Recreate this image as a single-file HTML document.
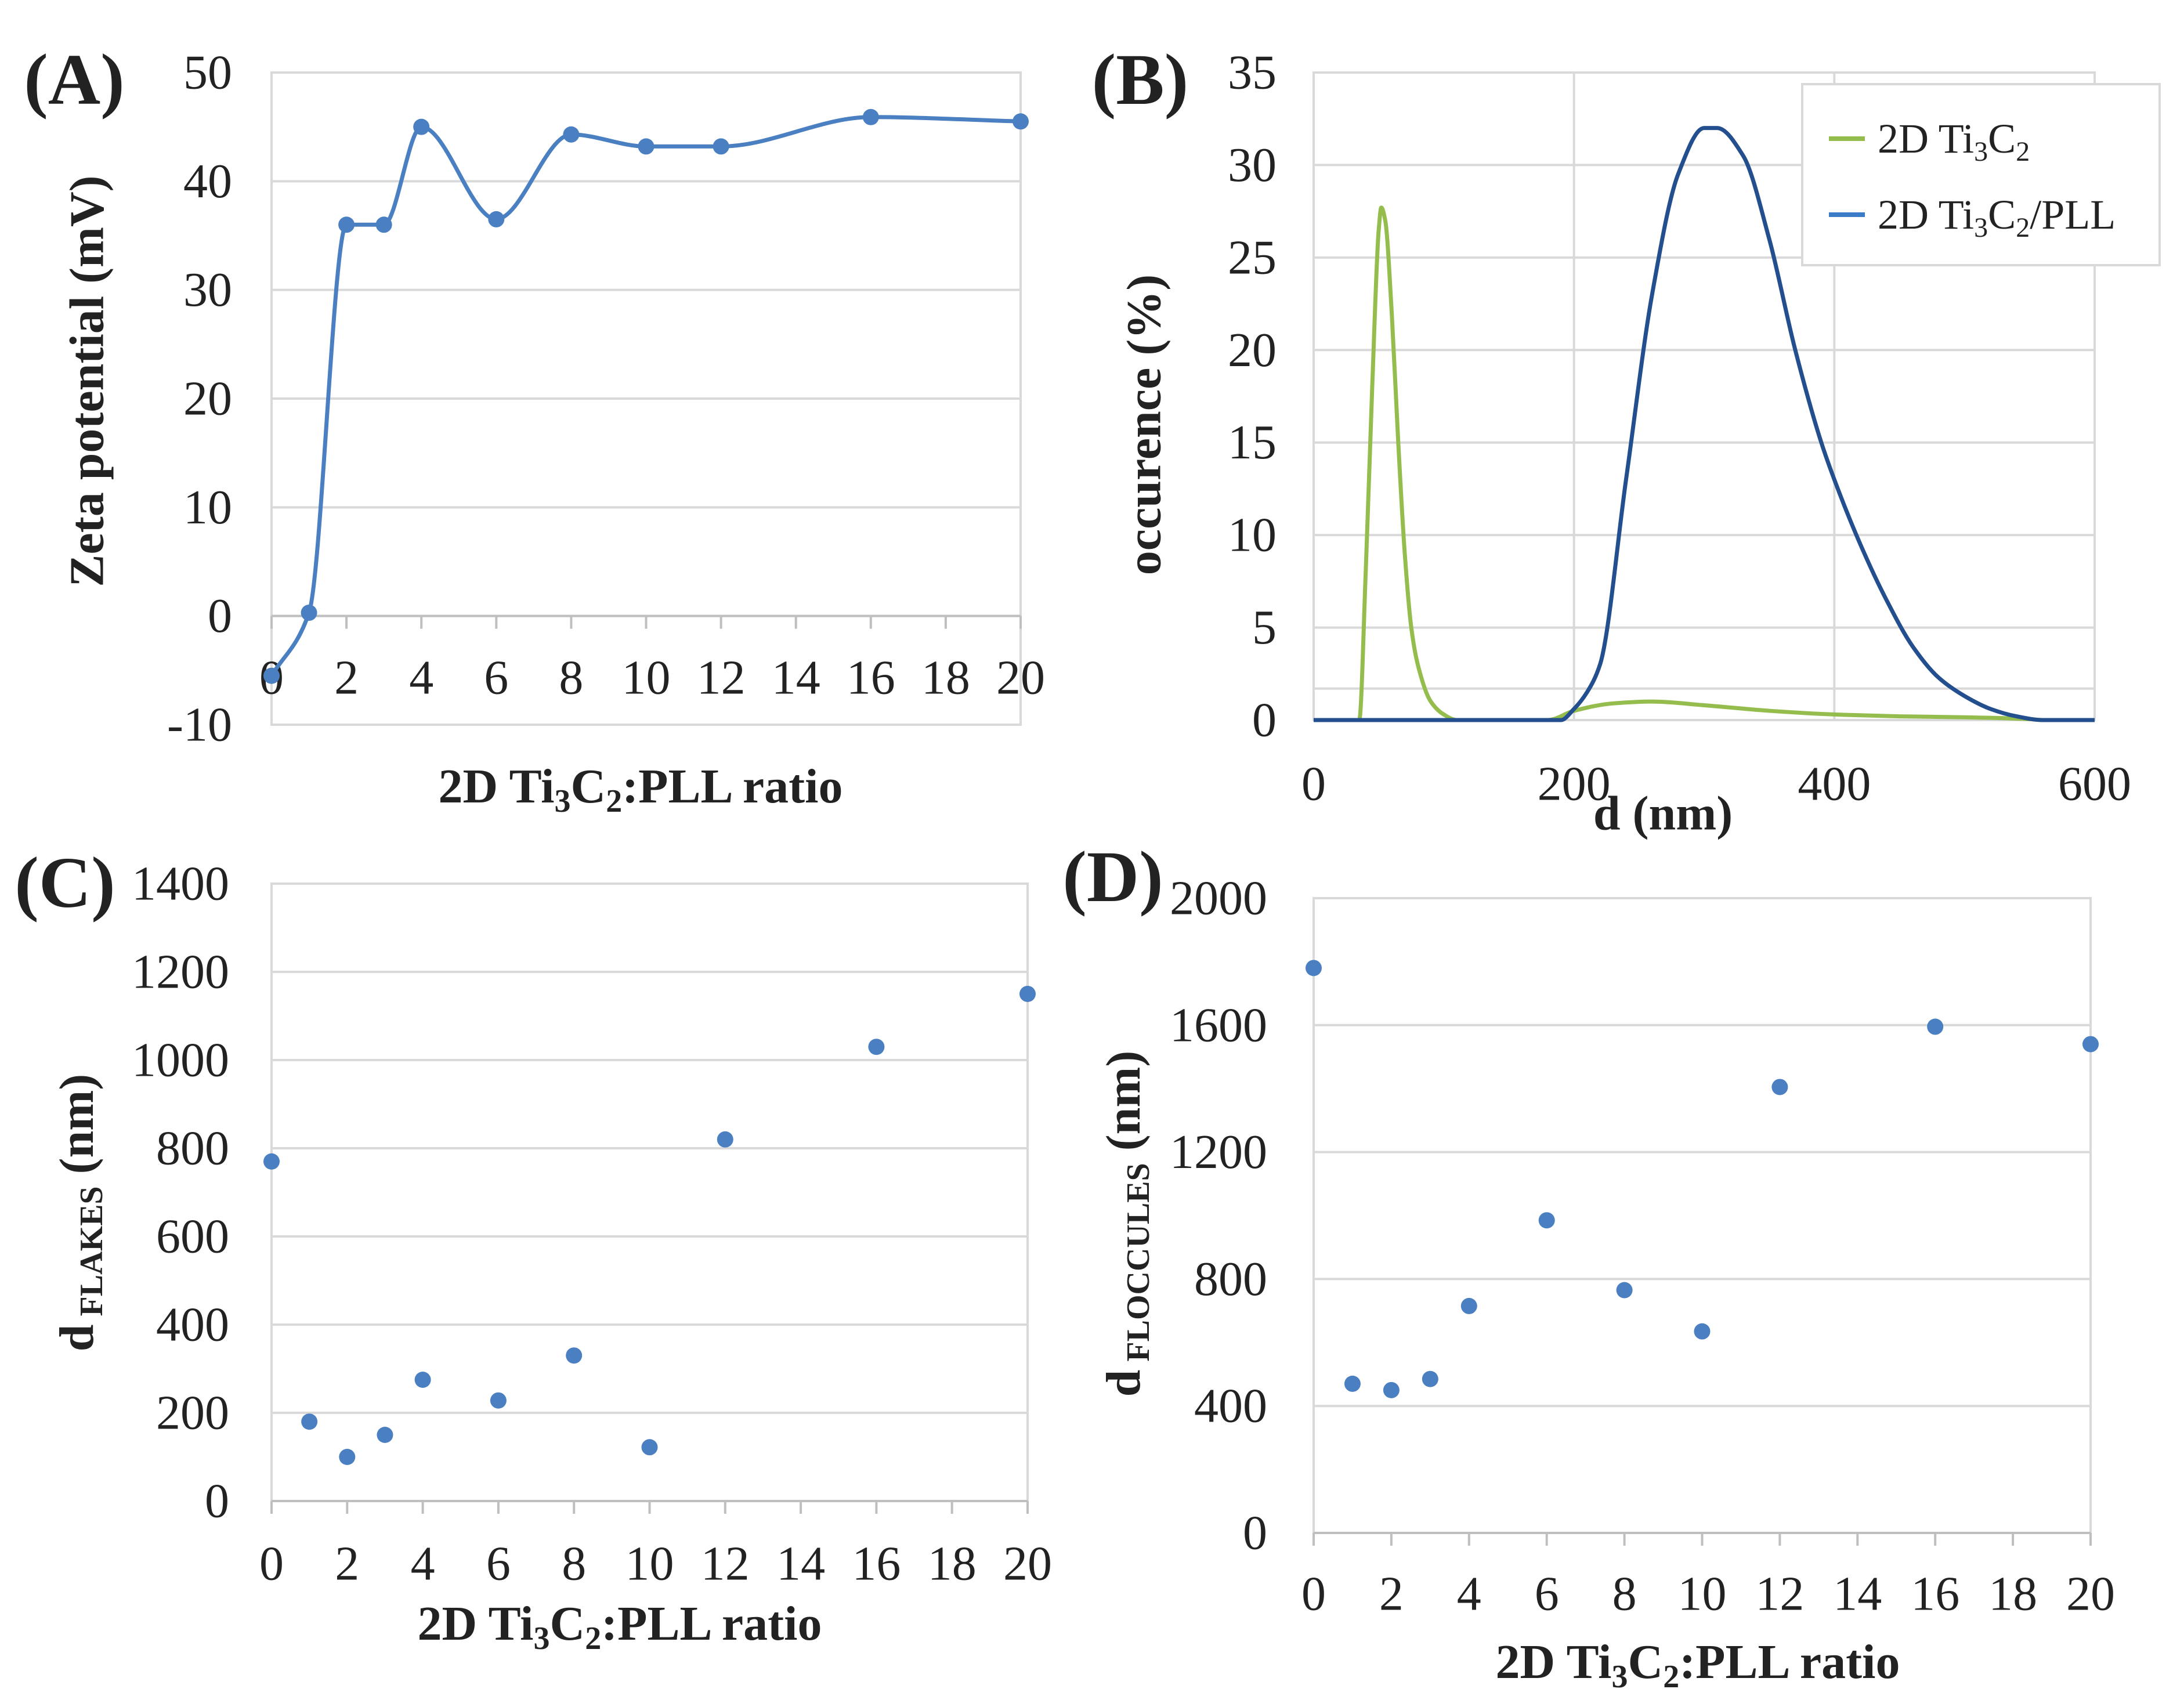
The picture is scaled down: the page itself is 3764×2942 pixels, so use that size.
<!DOCTYPE html>
<html><head><meta charset="utf-8"><style>
html,body{margin:0;padding:0;background:#fff;}
svg{display:block;font-family:"Liberation Serif",serif;}
</style></head><body>
<svg id="fig" width="3764" height="2942" viewBox="0 0 3764 2942" xmlns="http://www.w3.org/2000/svg">
<rect width="3764" height="2942" fill="#fff"/>
<g id="root"></g>
</svg>
<script>
// Panel A data
const ratiosA = [0,1,2,3,4,6,8,10,12,16,20];
const zetaA = [-5.5,0.3,36,36,45,36.5,44.3,43.2,43.2,45.9,45.5];
const yTicksA = [-10,0,10,20,30,40,50];
const xTicks = [0,2,4,6,8,10,12,14,16,18,20];
// Panel B data
const dGreen = [0,35,40,45,50,52,55,60,65,70,75,80,90,100,110,180,200,230,260,300,350,400,450,500,550,560,600];
const occGreen = [0,0,8,18,26.5,27.7,27,22,15,9,5,3,1,0.3,0,0,0.5,0.9,1.0,0.8,0.5,0.3,0.2,0.15,0.05,0,0];
const dBlue = [0,190,200,210,220,240,260,280,300,310,330,350,370,390,400,420,440,460,480,500,520,540,560,600];
const occBlue = [0,0,0.6,1.5,3,13,23,29.5,32,32,30.5,26,20,15,13,9.5,6.5,4,2.3,1.3,0.6,0.2,0,0];
const xTicksB = [0,200,400,600];
const yTicksB = [0,5,10,15,20,25,30,35];
// Panel C data
const ratiosC = [0,1,2,3,4,6,8,10,12,16,20];
const flakesC = [770,180,100,150,275,228,330,122,820,1030,1150];
const yTicksC = [0,200,400,600,800,1000,1200,1400];
// Panel D data
const ratiosD = [0,1,2,3,4,6,8,10,12,16,20];
const floccD = [1780,470,450,485,715,985,765,635,1405,1595,1540];
const yTicksD = [0,400,800,1200,1600,2000];

const NS="http://www.w3.org/2000/svg";
const root=document.getElementById('root');
function mk(tag,attrs,parent){const e=document.createElementNS(NS,tag);for(const k in attrs)e.setAttribute(k,attrs[k]);(parent||root).appendChild(e);return e;}
function txt(s,x,y,size,opts,parent){opts=opts||{};const t=mk('text',{x:x,y:y,'font-size':size,'text-anchor':opts.anchor||'middle','dominant-baseline':'central','font-weight':opts.bold?'bold':'normal',fill:'#222'},parent);if(opts.rot)t.setAttribute('transform','rotate(-90 '+x+' '+y+')');t.textContent=s;return t;}
function lin(d0,d1,r0,r1){return v=>r0+(v-d0)/(d1-d0)*(r1-r0);}
// monotone cubic (Fritsch-Carlson) in pixel space (x increasing)
function monotone(pts){const n=pts.length;const dx=[],m=[],t=[];for(let i=0;i<n-1;i++){dx.push(pts[i+1][0]-pts[i][0]);m.push((pts[i+1][1]-pts[i][1])/dx[i]);}
t[0]=m[0];t[n-1]=m[n-2];for(let i=1;i<n-1;i++){if(m[i-1]*m[i]<=0)t[i]=0;else{const w1=2*dx[i]+dx[i-1],w2=dx[i]+2*dx[i-1];t[i]=(w1+w2)/(w1/m[i-1]+w2/m[i]);}}
let d='M'+pts[0][0]+','+pts[0][1];for(let i=0;i<n-1;i++){const h=dx[i]/3;d+=' C'+(pts[i][0]+h)+','+(pts[i][1]+t[i]*h)+' '+(pts[i+1][0]-h)+','+(pts[i+1][1]-t[i+1]*h)+' '+pts[i+1][0]+','+pts[i+1][1];}return d;}
function grid(g,x0,x1,y0,y1,ys,sy){mk('rect',{x:x0,y:y0,width:x1-x0,height:y1-y0,fill:'none',stroke:'#d9d9d9','stroke-width':4},g);ys.forEach(v=>{const l=mk('line',{x1:x0,x2:x1,y1:sy(v),y2:sy(v),stroke:'#d9d9d9','stroke-width':4},g);});}
function xaxis(g,x0,x1,yb,ticks,sx,lblY){mk('line',{x1:x0,x2:x1,y1:yb,y2:yb,stroke:'#bfbfbf','stroke-width':4},g);ticks.forEach(v=>{mk('line',{x1:sx(v),x2:sx(v),y1:yb,y2:yb+22,stroke:'#bfbfbf','stroke-width':4},g);const t=txt(String(v),sx(v),lblY,84,{},g);});}
function yaxis(g,ticks,sy,xr){ticks.forEach(v=>{const t=txt(String(v),xr,sy(v),84,{anchor:'end'},g);});}
function ratioTitle(g,x,y,name){const t=mk('text',{x:x,y:y+28,'font-size':84,'font-weight':'bold','text-anchor':'middle',fill:'#222'},g);t.innerHTML='2D Ti<tspan font-size="56" dy="16">3</tspan><tspan dy="-16">C</tspan><tspan font-size="56" dy="16">2</tspan><tspan dy="-16">:PLL ratio</tspan>';}

// ---- Panel A ----
{const g=mk('g',{});
const sx=lin(0,20,468,1759), sy=lin(-10,50,1249,125);
grid(g,468,1759,125,1249,yTicksA,sy);
xaxis(g,468,1759,sy(0),xTicks,sx,1168);
yaxis(g,yTicksA,sy,400);
const pts=ratiosA.map((r,i)=>[sx(r),sy(zetaA[i])]);
const p=mk('path',{d:monotone(pts),fill:'none',stroke:'#4a7fc1','stroke-width':7},g);
pts.forEach(q=>{const c=mk('circle',{cx:q[0],cy:q[1],r:14,fill:'#4a7fc1'},g);});
let t=txt('(A)',128,138,125,{bold:true},g);
t=txt('Zeta potential  (mV)',150,657,84,{bold:true,rot:true},g);
ratioTitle(g,1104,1355,'x-axis-title-a');}

// ---- Panel B ----
{const g=mk('g',{});
const sx=lin(0,600,2264,3610), sy=lin(0,35,1241,125);
grid(g,2264,3610,125,1241,yTicksB.concat([1.7]),sy);
xTicksB.forEach(v=>{mk('line',{x1:sx(v),x2:sx(v),y1:125,y2:1241,stroke:'#d9d9d9','stroke-width':4},g);});
yaxis(g,yTicksB,sy,2200);
xTicksB.forEach(v=>{const t=txt(String(v),sx(v),1351,84,{},g);});
const pg=mk('path',{d:monotone(dGreen.map((d,i)=>[sx(d),sy(occGreen[i])])),fill:'none',stroke:'#95bd4e','stroke-width':7},g);
const pb=mk('path',{d:monotone(dBlue.map((d,i)=>[sx(d),sy(occBlue[i])])),fill:'none',stroke:'#234f8e','stroke-width':7},g);
const lg=mk('g',{},g);
mk('rect',{x:3106,y:145,width:616,height:312,fill:'#fff',stroke:'#d9d9d9','stroke-width':4},lg);
mk('line',{x1:3152,x2:3214,y1:239,y2:239,stroke:'#95bd4e','stroke-width':8},lg);
mk('line',{x1:3152,x2:3214,y1:370,y2:370,stroke:'#3b7cc9','stroke-width':8},lg);
let t=mk('text',{x:3236,y:263,'font-size':72,fill:'#222'},lg);t.innerHTML='2D Ti<tspan font-size="48" dy="14">3</tspan><tspan dy="-14">C</tspan><tspan font-size="48" dy="14">2</tspan>';
t=mk('text',{x:3236,y:394,'font-size':72,fill:'#222'},lg);t.innerHTML='2D Ti<tspan font-size="48" dy="14">3</tspan><tspan dy="-14">C</tspan><tspan font-size="48" dy="14">2</tspan><tspan dy="-14">/PLL</tspan>';
t=txt('(B)',1965,138,125,{bold:true},g);
t=txt('occurence (%)',1972,732,84,{bold:true,rot:true},g);
t=txt('d (nm)',2866,1402,84,{bold:true},g);}

// ---- Panel C ----
{const g=mk('g',{});
const sx=lin(0,20,468,1771), sy=lin(0,1400,2587,1523);
grid(g,468,1771,1523,2587,yTicksC,sy);
xaxis(g,468,1771,2587,xTicks,sx,2695);
yaxis(g,yTicksC,sy,395);
ratiosC.forEach((r,i)=>{const c=mk('circle',{cx:sx(r),cy:sy(flakesC[i]),r:14,fill:'#4a7fc1'},g);});
let t=txt('(C)',112,1522,125,{bold:true},g);
t=mk('text',{x:160,y:2090,'font-size':84,'font-weight':'bold','text-anchor':'middle',fill:'#222',transform:'rotate(-90 160 2090)'},g);t.innerHTML='d<tspan font-size="56" dy="16"> FLAKES</tspan><tspan dy="-16">   (nm)</tspan>';
ratioTitle(g,1068,2798,'x-axis-title-c');}

// ---- Panel D ----
{const g=mk('g',{});
const sx=lin(0,20,2264,3603), sy=lin(0,2000,2642,1548);
grid(g,2264,3603,1548,2642,yTicksD,sy);
xaxis(g,2264,3603,2642,xTicks,sx,2747);
yaxis(g,yTicksD,sy,2184);
ratiosD.forEach((r,i)=>{const c=mk('circle',{cx:sx(r),cy:sy(floccD[i]),r:14,fill:'#4a7fc1'},g);});
let t=txt('(D)',1918,1512,125,{bold:true},g);
t=mk('text',{x:1964,y:2109,'font-size':84,'font-weight':'bold','text-anchor':'middle',fill:'#222',transform:'rotate(-90 1964 2109)'},g);t.innerHTML='d<tspan font-size="56" dy="16"> FLOCCULES</tspan><tspan dy="-16"> (nm)</tspan>';
ratioTitle(g,2926,2864,'x-axis-title-d');}
</script>
</body></html>
